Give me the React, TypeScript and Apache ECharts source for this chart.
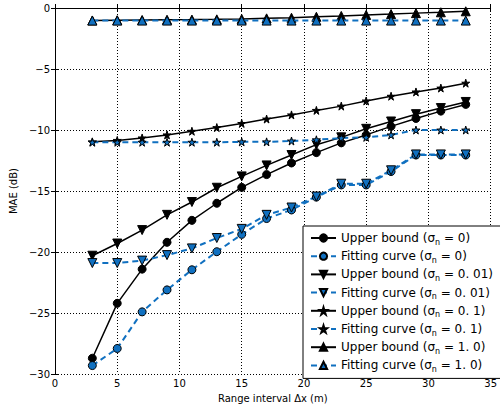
import React, { useEffect, useRef } from "react";
import * as echarts from "echarts";

const xValues = [3, 5, 7, 9, 11, 13, 15, 17, 19, 21, 23, 25, 27, 29, 31, 33];
const upper0 = [-28.7, -24.2, -21.4, -19.2, -17.4, -16.0, -14.7, -13.65, -12.7, -11.85, -11.05, -10.4, -9.7, -9.05, -8.45, -7.9];
const fit0 = [-29.3, -27.9, -24.9, -23.1, -21.45, -19.97, -18.55, -17.25, -16.55, -15.5, -14.5, -14.5, -13.4, -12.05, -12.05, -12.05];
const upper001 = [-20.3, -19.3, -18.2, -16.95, -15.9, -14.73, -13.8, -12.9, -12.05, -11.2, -10.6, -9.9, -9.3, -8.7, -8.2, -7.7];
const fit001 = [-20.9, -20.9, -20.7, -20.25, -19.7, -18.85, -18.1, -16.95, -16.35, -15.45, -14.4, -14.4, -13.3, -12.0, -12.0, -12.0];
const upper01 = [-10.97, -10.85, -10.65, -10.4, -10.1, -9.8, -9.46, -9.1, -8.76, -8.39, -8.04, -7.62, -7.23, -6.88, -6.56, -6.16];
const fit01 = [-11.0, -11.0, -11.0, -11.0, -11.0, -11.0, -10.97, -10.97, -10.9, -10.8, -10.65, -10.6, -10.4, -10.0, -10.0, -10.0];
const upper1 = [-1.02, -1.0, -0.98, -0.96, -0.95, -0.93, -0.9, -0.85, -0.8, -0.72, -0.65, -0.57, -0.5, -0.42, -0.35, -0.27];
const fit1 = [-1.03, -1.03, -1.03, -1.03, -1.03, -1.03, -1.03, -1.03, -1.03, -1.03, -1.03, -1.03, -1.03, -1.03, -1.03, -1.03];

const seriesNames = [
  "Upper bound (σn = 0)",
  "Fitting curve (σn = 0)",
  "Upper bound (σn = 0. 01)",
  "Fitting curve (σn = 0. 01)",
  "Upper bound (σn = 0. 1)",
  "Fitting curve (σn = 0. 1)",
  "Upper bound (σn = 1. 0)",
  "Fitting curve (σn = 1. 0)",
];

const xTicks = { min: 0, max: 35, interval: 5 };
const yTicks = { min: -30, max: 0, interval: 5 };

const BLUE = "#1070c0";
const STAR = "path://M50,2 L61,37 L98,37 L68,59 L79,94 L50,72 L21,94 L32,59 L2,37 L39,37 Z";

export default function App() {
  const ref = useRef<HTMLDivElement>(null);
  useEffect(() => {
    if (!ref.current) return;
    const chart = echarts.init(ref.current, undefined, { renderer: "svg" });
    const font = "DejaVu Sans";
    const mk = (
      name: string,
      values: number[],
      fitting: boolean,
      symbol: string,
      size: number,
      rotate = 0
    ) => ({
      name,
      type: "line",
      data: xValues.map((x, i) => [x, values[i]]),
      symbol,
      symbolSize: size,
      symbolRotate: rotate,
      showAllSymbol: true,
      lineStyle: fitting
        ? { color: BLUE, width: 2, type: [6, 4] }
        : { color: "#000", width: 1.5, type: "solid" },
      itemStyle: {
        color: fitting ? BLUE : "#000",
        borderColor: "#000",
        borderWidth: 1,
      },
      emphasis: { disabled: true },
      z: fitting ? 3 : 2,
    });
    const series = [
      mk(seriesNames[0], upper0, false, "circle", 8),
      mk(seriesNames[1], fit0, true, "circle", 8),
      mk(seriesNames[2], upper001, false, "triangle", 9, 180),
      mk(seriesNames[3], fit001, true, "triangle", 9, 180),
      mk(seriesNames[4], upper01, false, STAR, 8),
      mk(seriesNames[5], fit01, true, STAR, 8),
      mk(seriesNames[6], upper1, false, "triangle", 9),
      mk(seriesNames[7], fit1, true, "triangle", 9),
    ];
    const minus = (v: number) => String(v).replace("-", "\u2212");
    const axisCommon = {
      axisLine: { show: true, lineStyle: { color: "#000", width: 1 } },
      axisTick: { show: true, inside: true, length: 4, lineStyle: { color: "#000" } },
    };
    chart.setOption({
      animation: false,
      textStyle: { fontFamily: font },
      grid: { left: 50, top: 8, width: 448, height: 372, containLabel: false },
      xAxis: [
        {
          type: "value",
          ...xTicks,
          position: "bottom",
          ...axisCommon,
          axisLabel: { color: "#000", fontSize: 10, fontFamily: font, margin: 4 },
          splitLine: { show: true, lineStyle: { color: "#000", type: [1, 2], width: 1 } },
          name: "Range interval \u0394x (m)",
          nameLocation: "middle",
          nameGap: 18,
          nameTextStyle: { color: "#000", fontSize: 10, fontFamily: font },
        },
        {
          type: "value",
          ...xTicks,
          position: "top",
          ...axisCommon,
          axisLabel: { show: false },
          splitLine: { show: false },
        },
      ],
      yAxis: [
        {
          type: "value",
          ...yTicks,
          position: "left",
          ...axisCommon,
          axisLabel: { color: "#000", fontSize: 10, fontFamily: font, margin: 5, formatter: minus },
          splitLine: { show: true, lineStyle: { color: "#000", type: [1, 2], width: 1 } },
          name: "MAE (dB)",
          nameLocation: "middle",
          nameGap: 30,
          nameRotate: 90,
          nameTextStyle: { color: "#000", fontSize: 10, fontFamily: font },
        },
        {
          type: "value",
          ...yTicks,
          position: "right",
          ...axisCommon,
          axisLabel: { show: false },
          splitLine: { show: false },
        },
      ],
      legend: {
        orient: "vertical",
        left: 303,
        top: 226,
        padding: [4, 8, 5, 7],
        itemGap: 2.2,
        itemWidth: 25,
        itemHeight: 9,
        borderColor: "#000",
        borderWidth: 1,
        borderRadius: 0,
        backgroundColor: "#fff",
        symbolRotate: "inherit",
        data: seriesNames,
        formatter: (name: string) => {
          const parts = name.split("σn");
          return "{a|" + parts[0] + "σ}{sub|n}{a|" + parts[1] + "}";
        },
        textStyle: {
          fontFamily: font,
          color: "#000",
          fontSize: 12,
          lineHeight: 16,
          rich: {
            a: { fontSize: 12, lineHeight: 16, fontFamily: font, color: "#000" },
            sub: { fontSize: 8, lineHeight: 16, fontFamily: font, color: "#000", verticalAlign: "bottom", padding: [6, 0, 0, 0] },
          },
        },
      },
      series,
    });
    return () => chart.dispose();
  }, []);
  return (
    <div
      ref={ref}
      style={{ position: "fixed", left: 0, top: 0, width: 500, height: 408, background: "#fff" }}
    />
  );
}
